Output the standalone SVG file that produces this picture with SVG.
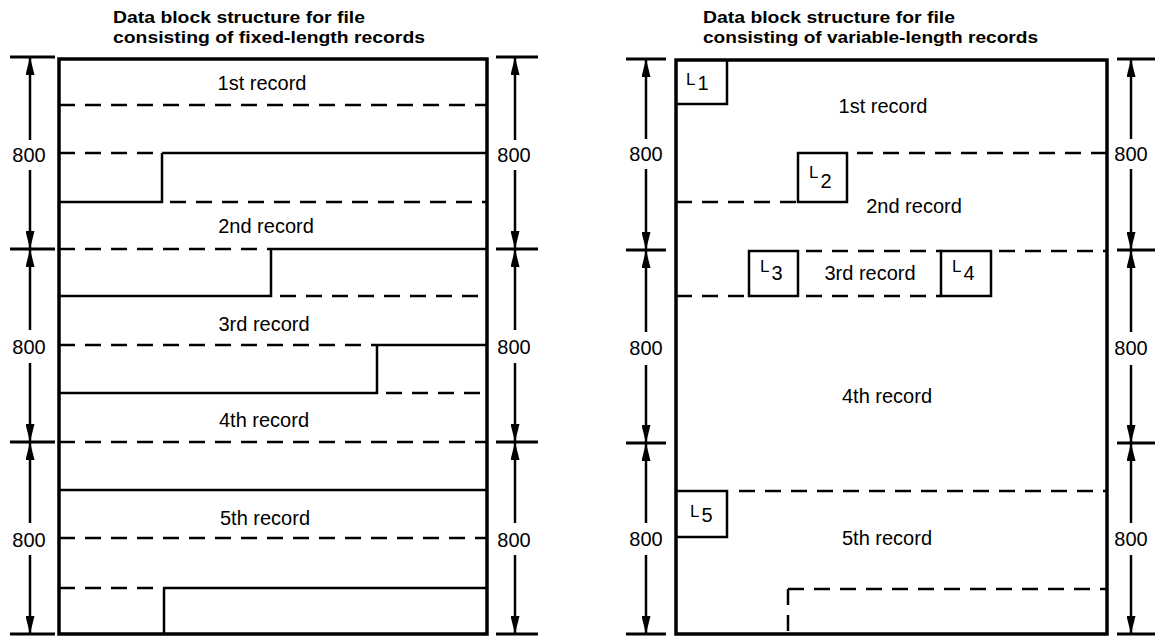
<svg xmlns="http://www.w3.org/2000/svg" width="1155" height="640" viewBox="0 0 1155 640">
<style>
.title{font-family:"Liberation Sans",Arial,sans-serif;font-weight:bold;font-size:17px;fill:#000}
.lbl{font-family:"Liberation Sans",Arial,sans-serif;font-size:20px;fill:#000;text-anchor:middle}
.lt{font-family:"Liberation Sans",Arial,sans-serif;font-size:17px;fill:#000}
.dg{font-size:20px}
.border{fill:none;stroke:#000;stroke-width:3.5}
.solid{fill:none;stroke:#000;stroke-width:2.5}
.dash{fill:none;stroke:#000;stroke-width:2.5;stroke-dasharray:16 10}
.dim{fill:none;stroke:#000;stroke-width:2.5;marker-end:url(#ah)}
.tick{fill:none;stroke:#000;stroke-width:3}
.box{fill:#fff;stroke:#000;stroke-width:2.5}
</style>
<defs>
<marker id="ah" viewBox="0 0 18 9" refX="18" refY="4.5" markerWidth="18" markerHeight="9" markerUnits="userSpaceOnUse" orient="auto">
<path d="M0,0 L18,4.5 L0,9 z" fill="#000"/>
</marker>
</defs>

<g id="left-panel">
<text class="title" x="113" y="23" textLength="252" lengthAdjust="spacingAndGlyphs">Data block structure for file</text>
<text class="title" x="113" y="43" textLength="312" lengthAdjust="spacingAndGlyphs">consisting of fixed-length records</text>
<g id="left-records">
<path class="dash" d="M59,105 H487"/>
<path class="dash" d="M59,153 H162"/>
<path class="solid" d="M162,153 H487 M162,153 V202 H59"/>
<path class="dash" d="M170,202 H487"/>
<path class="dash" d="M59,249 H271"/>
<path class="solid" d="M271,249 H487 M271,249 V296 H59"/>
<path class="dash" d="M280,296 H487"/>
<path class="dash" d="M59,345 H377"/>
<path class="solid" d="M377,345 H487 M377,345 V393 H59"/>
<path class="dash" d="M386,393 H487"/>
<path class="dash" d="M59,442 H487"/>
<path class="solid" d="M59,490 H487"/>
<path class="dash" d="M59,538 H487"/>
<path class="dash" d="M59,588 H164"/>
<path class="solid" d="M164,588 H487 M164,588 V634"/>
<text class="lbl" x="262" y="90">1st record</text>
<text class="lbl" x="266" y="233">2nd record</text>
<text class="lbl" x="264" y="331">3rd record</text>
<text class="lbl" x="264" y="427">4th record</text>
<text class="lbl" x="265" y="525">5th record</text>
</g>
<rect class="border" x="59" y="59" width="428" height="575"/>
</g>

<g id="right-panel">
<text class="title" x="703" y="23" textLength="252" lengthAdjust="spacingAndGlyphs">Data block structure for file</text>
<text class="title" x="703" y="43" textLength="335" lengthAdjust="spacingAndGlyphs">consisting of variable-length records</text>
<g id="right-records">
<path class="solid" d="M676,104 H727 V60"/>
<text class="lt" x="686" y="85">L<tspan class="dg" dx="2" dy="5">1</tspan></text>
<path class="dash" d="M857,153 H1107"/>
<path class="dash" d="M676,202 H798"/>
<rect class="box" x="798" y="153" width="49" height="49"/>
<text class="lt" x="809" y="178">L<tspan class="dg" dx="2" dy="10">2</tspan></text>
<path class="dash" d="M806,251 H941"/>
<path class="dash" d="M999,251 H1107"/>
<path class="dash" d="M676,296 H749"/>
<path class="dash" d="M806,296 H941"/>
<rect class="box" x="749" y="251" width="49" height="45"/>
<text class="lt" x="760" y="272">L<tspan class="dg" dx="2" dy="8">3</tspan></text>
<rect class="box" x="941" y="251" width="50" height="45"/>
<text class="lt" x="952" y="272">L<tspan class="dg" dx="2" dy="8">4</tspan></text>
<path class="solid" d="M676,491 H727 V537 H676"/>
<text class="lt" x="690" y="517">L<tspan class="dg" dx="2" dy="5">5</tspan></text>
<path class="dash" d="M739,491 H1107"/>
<path class="dash" d="M788,589 H1107 M788,589 V634"/>
<text class="lbl" x="883" y="113">1st record</text>
<text class="lbl" x="914" y="213">2nd record</text>
<text class="lbl" x="870" y="280">3rd record</text>
<text class="lbl" x="887" y="403">4th record</text>
<text class="lbl" x="887" y="545">5th record</text>
</g>
<rect class="border" x="676" y="60" width="431" height="574"/>
</g>

<g id="connectors">
<path class="tick" d="M10,57 H55 M10,249 H55 M10,442 H55 M10,634 H55"/>
<path class="dim" d="M30,140 V57"/><path class="dim" d="M30,170 V249"/>
<path class="dim" d="M30,330 V249"/><path class="dim" d="M30,363 V442"/>
<path class="dim" d="M30,523 V442"/><path class="dim" d="M30,555 V634"/>
<path class="tick" d="M496,57 H538 M496,249 H538 M496,442 H538 M496,634 H538"/>
<path class="dim" d="M515,140 V57"/><path class="dim" d="M515,170 V249"/>
<path class="dim" d="M515,330 V249"/><path class="dim" d="M515,363 V442"/>
<path class="dim" d="M515,523 V442"/><path class="dim" d="M515,555 V634"/>
<path class="tick" d="M626,59 H666 M626,250 H666 M626,443 H666 M626,634 H666"/>
<path class="dim" d="M646,139 V59"/><path class="dim" d="M646,169 V250"/>
<path class="dim" d="M646,332 V250"/><path class="dim" d="M646,365 V443"/>
<path class="dim" d="M646,523 V443"/><path class="dim" d="M646,555 V634"/>
<path class="tick" d="M1117,59 H1155 M1117,250 H1155 M1117,443 H1155 M1117,634 H1155"/>
<path class="dim" d="M1131,139 V59"/><path class="dim" d="M1131,169 V250"/>
<path class="dim" d="M1131,332 V250"/><path class="dim" d="M1131,365 V443"/>
<path class="dim" d="M1131,523 V443"/><path class="dim" d="M1131,555 V634"/>
</g>

<g id="dimension-labels">
<text class="lbl" x="29" y="162">800</text>
<text class="lbl" x="29" y="354">800</text>
<text class="lbl" x="29" y="547">800</text>
<text class="lbl" x="514" y="162">800</text>
<text class="lbl" x="514" y="354">800</text>
<text class="lbl" x="514" y="547">800</text>
<text class="lbl" x="646" y="161">800</text>
<text class="lbl" x="646" y="355">800</text>
<text class="lbl" x="646" y="546">800</text>
<text class="lbl" x="1131" y="161">800</text>
<text class="lbl" x="1131" y="355">800</text>
<text class="lbl" x="1131" y="546">800</text>
</g>
</svg>
